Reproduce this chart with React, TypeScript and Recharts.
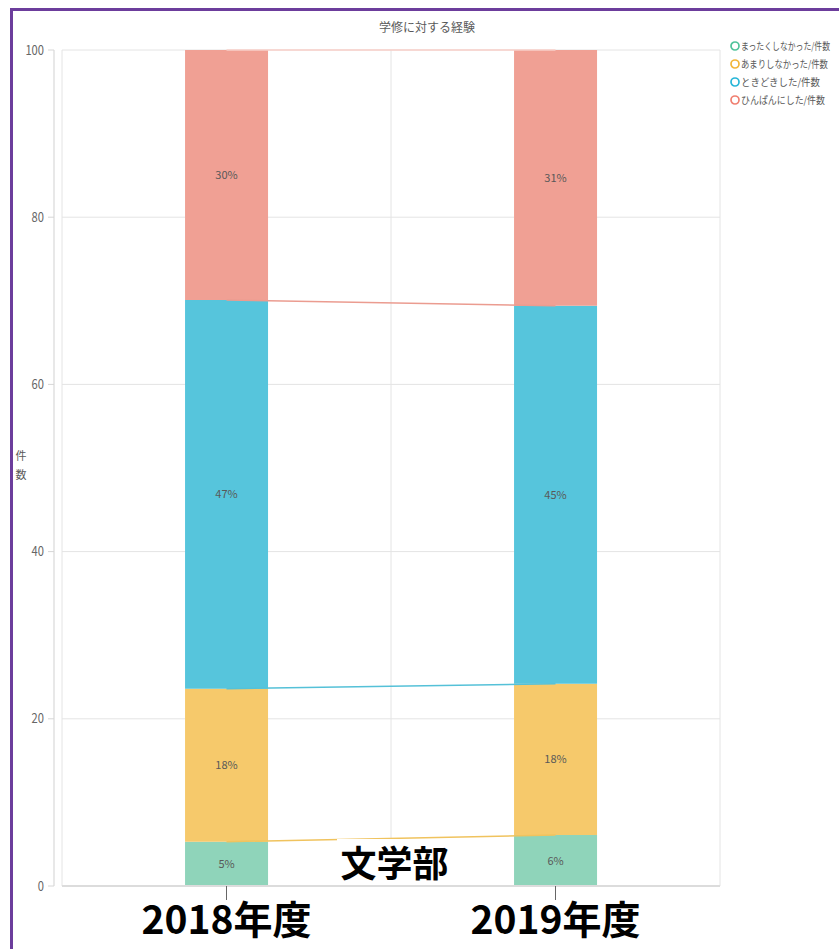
import React from 'react';
import { BarChart, Bar, XAxis, YAxis, CartesianGrid, ReferenceLine, LabelList, Legend } from 'recharts';

// ---- data ----
const YEARS = ['2018年度', '2019年度'];
const SERIES_NAMES = ['まったくしなかった/件数', 'あまりしなかった/件数', 'ときどきした/件数', 'ひんぱんにした/件数'];
const NEVER = [5.3, 6.1];
const RARELY = [18.3, 18.1];
const SOMETIMES = [46.5, 45.2];
const OFTEN = [29.9, 30.6];
const NEVER_PCT = ['5%', '6%'];
const RARELY_PCT = ['18%', '18%'];
const SOMETIMES_PCT = ['47%', '45%'];
const OFTEN_PCT = ['30%', '31%'];
const Y_TICKS = [0, 20, 40, 60, 80, 100];
const TITLE = '学修に対する経験';
const Y_LABEL = ['件', '数'];
const FACULTY = '文学部';

// ---- styles ----
const FONT = '"Noto Sans CJK JP", "Noto Sans", sans-serif';
const FILLS = ['#8fd4ba', '#f6c96b', '#56c5dc', '#f0a094'];
const LEGEND_COLORS = ['#4fc39a', '#f2b53a', '#27b6d8', '#f07f70'];
const CONNECTOR_COLORS = ['#f0c35e', '#55c1d8', '#eb9c90', '#f8cfc8'];
const LEGEND_TEXT_WIDTHS = [89, 87, 79, 84];
const LEGEND_SQUEEZE = 0.78;
const AX = 'outer';

const KEYS = ['never', 'rarely', 'sometimes', 'often'];
const VALUES = [NEVER, RARELY, SOMETIMES, OFTEN];
const PCTS = [NEVER_PCT, RARELY_PCT, SOMETIMES_PCT, OFTEN_PCT];

const data = YEARS.map((year, i) => {
  const row: any = { year };
  KEYS.forEach((k, s) => { row[k] = VALUES[s][i]; });
  return row;
});

// cumulative top of each series per year
const CUM = KEYS.map((_, s) => YEARS.map((__, i) => VALUES.slice(0, s + 1).reduce((a, v) => a + v[i], 0)));

const makeLabel = (labels: string[]) => (props: any) => {
  const { x, y, width, height, index } = props;
  return (
    <text x={Number(x) + Number(width) / 2} y={Number(y) + Number(height) / 2 + 4} textAnchor="middle"
      fontSize={11} fill="#595959" fontFamily={FONT}>{labels[index]}</text>
  );
};

const XTick = (props: any) => {
  const { x, y, payload } = props;
  return (
    <text x={x} y={y + 32} textAnchor="middle" fontSize={39} fontWeight={700} fill="#000" fontFamily={FONT}>
      {payload.value}
    </text>
  );
};

const YTick = (props: any) => {
  const { x, y, payload } = props;
  const s = String(payload.value);
  return (
    <text x={x} y={y + 4.5} textAnchor="end" fontSize={13} fill="#666" fontFamily={FONT}
      textLength={s.length * 6.2} lengthAdjust="spacingAndGlyphs">{s}</text>
  );
};

const LegendContent = () => (
  <svg width={113} height={80} style={{ display: 'block' }}>
    {SERIES_NAMES.map((name, i) => (
      <g key={name}>
        <circle cx={9} cy={10 + 18 * i} r={4} fill="#fff" stroke={LEGEND_COLORS[i]} strokeWidth={1.7} />
        <g transform={`translate(15 ${14 + 18 * i}) scale(${LEGEND_SQUEEZE} 1)`}>
          <text x={0} y={0} fontSize={10} fill="#595959" fontFamily={FONT}
            textLength={LEGEND_TEXT_WIDTHS[i] / LEGEND_SQUEEZE} lengthAdjust="spacingAndGlyphs">{name}</text>
        </g>
      </g>
    ))}
  </svg>
);

export default function App() {
  return (
    <div style={{ position: 'fixed', left: 0, top: 0, width: 839, height: 949, overflow: 'hidden', background: '#fff', fontFamily: FONT }}>
      <div style={{ position: 'absolute', left: 10, top: 8, width: 900, height: 1000, borderTop: '3px solid #6c3d9c', borderLeft: '3px solid #6c3d9c', boxSizing: 'border-box' }} />
      <div style={{ position: 'absolute', left: 0, top: 0 }}>
        <BarChart width={839} height={949} data={data} margin={{ top: 50, right: 119, bottom: 0, left: 0 }}
          barCategoryGap="37.4%">
          <CartesianGrid yAxisId={AX} stroke="#e4e4e4" vertical={true}
            verticalCoordinatesGenerator={({ offset }: any) => [offset.left, offset.left + offset.width / 2, offset.left + offset.width]} />
          <XAxis dataKey="year" height={63} interval={0} tick={<XTick />} tickSize={14} tickMargin={2}
            tickLine={{ stroke: '#666' }} axisLine={{ stroke: '#dcdcdc', strokeWidth: 2 }} />
          <YAxis yAxisId="inner" width={8} domain={[0, 100]} ticks={Y_TICKS} tick={false} tickLine={false} axisLine={false} />
          <YAxis yAxisId={AX} width={54} domain={[0, 100]} ticks={Y_TICKS} tick={<YTick />} tickSize={6} tickMargin={4}
            tickLine={{ stroke: '#d6d6d6' }} axisLine={{ stroke: '#e8e8e8', strokeWidth: 2 }} />
          <Legend layout="vertical" align="center" verticalAlign="middle" content={<LegendContent />}
            wrapperStyle={{ position: 'absolute', left: 726, top: 36, width: 113, height: 80 }} />
          {CUM.map((c, s) => (
            <ReferenceLine key={'c' + s} yAxisId={AX} ifOverflow="visible" stroke={CONNECTOR_COLORS[s]} strokeWidth={1.5}
              segment={[{ x: YEARS[0], y: c[0] }, { x: YEARS[1], y: c[1] }]} />
          ))}
          {KEYS.map((k, s) => (
            <Bar key={k} yAxisId={AX} dataKey={k} name={SERIES_NAMES[s]} stackId="a" fill={FILLS[s]} isAnimationActive={false}>
              <LabelList dataKey={k} content={makeLabel(PCTS[s])} />
            </Bar>
          ))}
          <ReferenceLine yAxisId={AX} ifOverflow="visible" stroke="#666" strokeWidth={1.5}
            segment={[{ x: YEARS[0], y: 0 }, { x: YEARS[1], y: 0 }]} />
        </BarChart>
      </div>
      <div style={{ position: 'absolute', left: 327, top: 19, width: 200, textAlign: 'center', fontSize: 12, lineHeight: '16px', color: '#595959' }}>
        {TITLE}
      </div>
      <div style={{ position: 'absolute', left: 15, top: 446, width: 12, textAlign: 'center', fontSize: 11, lineHeight: '19px', color: '#595959' }}>
        {Y_LABEL.map((c) => <div key={c}>{c}</div>)}
      </div>
      <div style={{ position: 'absolute', left: 337, top: 839, width: 115, height: 46, background: '#fff', textAlign: 'center', fontSize: 36, fontWeight: 700, lineHeight: '45px', color: '#000' }}>
        {FACULTY}
      </div>
    </div>
  );
}
